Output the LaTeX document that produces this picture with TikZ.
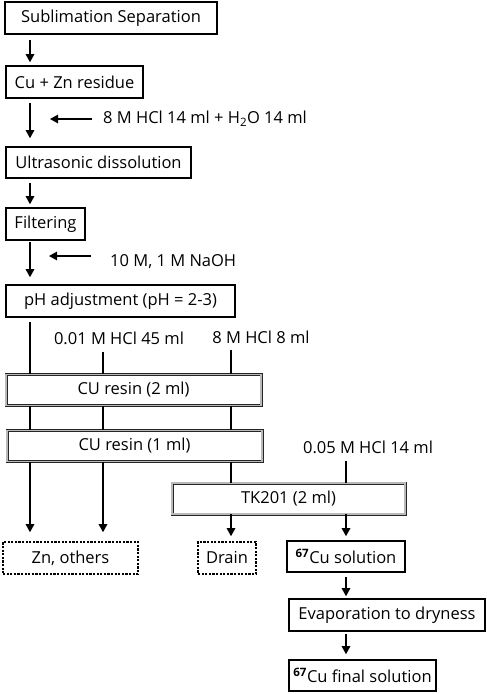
\documentclass[tikz,border=0pt]{standalone}
\usepackage{fontspec}
\setmainfont{Open Sans}
\usetikzlibrary{arrows.meta}
\begin{document}
\begin{tikzpicture}[x=1pt,y=-1pt,
  every node/.style={font=\fontsize{16.5}{20}\selectfont, inner sep=0pt},
  box/.style={draw=black, line width=1.6pt, minimum height=32pt},
  resin/.style={draw=black!85, line width=0.9pt, double=gray!55, double distance=1.2pt, minimum height=31pt},
  dbox/.style={draw=black, line width=1.6pt, dash pattern=on 2.2pt off 1.4pt, minimum height=32pt},
  lab/.style={anchor=west},
  arr/.style={line width=1.3pt, -{Triangle[length=8pt,width=8.5pt]}},
  ln/.style={line width=1.3pt}]
\useasboundingbox (0,0) rectangle (487,694);
% x positions
\coordinate (xa) at (30,0);
\coordinate (xb) at (103,0);
\coordinate (xc) at (231,0);
\coordinate (xd) at (346,0);
% boxes
\node[box, minimum width=212pt] (b1) at (111,18) {Sublimation Separation};
\node[box, minimum width=137pt] (b2) at (74.5,82) {Cu + Zn residue};
\node[box, minimum width=185pt, minimum height=31pt] (b3) at (98.5,162.5) {Ultrasonic dissolution};
\node[box, minimum width=79pt] (b4) at (45.5,224) {Filtering};
\node[box, minimum width=229pt] (b5) at (120.5,301) {pH adjustment (pH = 2-3)};
\node[resin, minimum width=255pt] (r1) at (133.5,390) {CU resin (2 ml)};
\node[resin, minimum width=255pt] (r2) at (134.5,446) {CU resin (1 ml)};
\node[resin, minimum width=233pt] (tk) at (288.5,498.5) {TK201 (2 ml)};
\node[dbox, minimum width=135pt] (zn) at (70.5,558) {Zn, others};
\node[dbox, minimum width=58pt] (dr) at (227,558) {Drain};
\node[box, minimum width=118pt, minimum height=31pt] (cu) at (346,556.5) {\textsuperscript{\textbf{67}}Cu solution};
\node[box, minimum width=196pt] (ev) at (387,615) {Evaporation to dryness};
\node[box, minimum width=147pt, minimum height=31pt] (fi) at (362.5,675.5) {\textsuperscript{\textbf{67}}Cu final solution};
% labels
\node[lab] (t1) at (103,119) {8 M HCl 14 ml + H\textsubscript{2}O 14 ml};
\node[lab] (t2) at (110,262) {10 M, 1 M NaOH};
\node (t3) at (119,338) {0.01 M HCl 45 ml};
\node (t4) at (261,337) {8 M HCl 8 ml};
\node (t5) at (368,447) {0.05 M HCl 14 ml};
% main flow
\draw[arr, shorten <=5pt, shorten >=3pt] (b1.south -| xa) -- (b2.north -| xa);
\draw[arr, shorten <=4pt, shorten >=8pt] (b2.south -| xa) -- (b3.north -| xa);
\draw[arr, shorten <=4pt, shorten >=3pt] (b3.south -| xa) -- (b4.north -| xa);
\draw[arr, shorten <=1pt, shorten >=7pt] (b4.south -| xa) -- (b5.north -| xa);
\draw[arr] ([xshift=-11pt]t1.west) -- ++(-42,0);
\draw[arr] ([xshift=-19pt]t2.west |- 0,256) -- ++(-42,0);
% resin section
\draw[ln, shorten <=4pt] (b5.south -| xa) -- (r1.north -| xa);
\draw[ln, shorten <=7pt] (t3.south -| xb) -- (r1.north -| xb);
\draw[ln, shorten <=6pt] (t4.south -| xc) -- (r1.north -| xc);
\draw[ln] (r1.south -| xa) -- (r2.north -| xa);
\draw[ln] (r1.south -| xb) -- (r2.north -| xb);
\draw[ln] (r1.south -| xc) -- (r2.north -| xc);
\draw[arr, shorten >=9pt] (r2.south -| xa) -- (zn.north -| xa);
\draw[arr, shorten >=9pt] (r2.south -| xb) -- (zn.north -| xb);
\draw[ln] (r2.south -| xc) -- (tk.north -| xc);
\draw[ln, shorten <=7pt] (t5.south -| xd) -- (tk.north -| xd);
\draw[arr, shorten >=5pt] (tk.south -| xc) -- (dr.north -| xc);
\draw[arr, shorten >=4pt] (tk.south -| xd) -- (cu.north -| xd);
\draw[arr, shorten <=4pt, shorten >=2pt] (cu.south -| xd) -- (ev.north -| xd);
\draw[arr, shorten <=2pt, shorten >=5pt] (ev.south -| xd) -- (fi.north -| xd);
\end{tikzpicture}
\end{document}
